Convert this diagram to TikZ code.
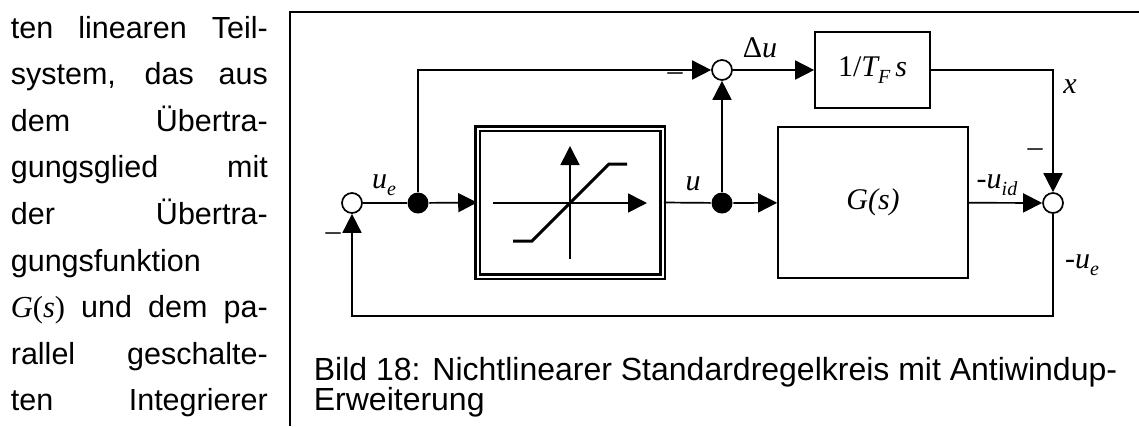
\documentclass[tikz,border=0pt]{standalone}
\usepackage{fontspec}
\setmainfont{Liberation Sans}
\newfontfamily\tms{Liberation Serif}
\usetikzlibrary{arrows.meta}
\newcommand\sbs[1]{\raisebox{-0.22em}{\fontsize{20}{20}\selectfont\itshape #1}}
\begin{document}
\begin{tikzpicture}[x=1pt,y=-1pt,line width=1.7pt,
  sumc/.style={circle,draw,fill=white,minimum size=20pt,inner sep=0pt},
  dotc/.style={circle,fill=black,minimum size=21pt,inner sep=0pt},
  sig/.style={-{Triangle[length=19pt,width=19pt]}},
  blk/.style={draw,inner sep=0pt,line width=1.7pt},
  lab/.style={inner sep=0pt,font=\fontsize{30}{30}\selectfont\tms\itshape},
  body/.style={inner sep=0pt,anchor=base west,font=\fontsize{30.5}{30.5}\selectfont},
  capt/.style={inner sep=0pt,anchor=base west,font=\fontsize{32}{32}\selectfont},
  ]
\useasboundingbox (0,0) rectangle (1139,426);
% left running text
\node[body] (t1) at (10,38) {\makebox[257pt][s]{ten linearen Teil-}};
\node[body] (t2) at (10,84.6) {\makebox[257pt][s]{system, das aus}};
\node[body] (t3) at (10,131.2) {\makebox[257pt][s]{dem Übertra-}};
\node[body] (t4) at (10,177.8) {\makebox[257pt][s]{gungsglied mit}};
\node[body] (t5) at (10,224.4) {\makebox[257pt][s]{der Übertra-}};
\node[body] (t6) at (10,271) {gungsfunktion};
\node[body] (t7) at (10,317.6) {\makebox[257pt][s]{{\tms\itshape G}{\tms(}{\tms\itshape s}{\tms)} und dem pa-}};
\node[body] (t8) at (10,364.2) {\makebox[257pt][s]{rallel geschalte-}};
\node[body] (t9) at (10,410.8) {\makebox[257pt][s]{ten Integrierer}};
% frame
\draw (290,426) -- (290,12) -- (1139,12);
% blocks
\node[draw,line width=2.6pt,double=white,double distance=2pt,minimum width=185pt,minimum height=148pt,inner sep=0pt] (sat) at (570,202.5) {};
\node[blk,minimum width=115pt,minimum height=76pt] (tf) at (872.5,70) {};
\node[blk,minimum width=190pt,minimum height=151pt] (G) at (873,202.5) {};
\node[lab] (tfl) at (tf.center) {{\upshape 1/}T\sbs{F}\,s};
\node[lab] (Gl) at (G.center) {G(s)};
% saturation characteristic
\draw[sig] (493,203) -- (647,203);
\draw[sig] (570,259) -- (570,146);
\draw[line width=3pt] (513,241) -- (532,241) -- (609,164) -- (627,164);
% junctions
\node[sumc] (s1) at (352,203) {};
\node[dotc] (d1) at (418,203) {};
\node[dotc] (d2) at (722,203) {};
\node[sumc] (s2) at (722,70) {};
\node[sumc] (s3) at (1053,203) {};
\coordinate (fb) at (352,316);
% connectors
\draw (s1) -- (d1);
\draw[sig,shorten >=-1pt] (d1) -- (sat.west);
\draw[sig] (d1) |- (s2);
\draw (sat.east) -- (d2);
\draw[sig] (d2) -- (s2);
\draw[sig] (d2) -- (G);
\draw[sig] (s2) -- (tf);
\draw[sig] (tf.east) -| (s3);
\draw[sig] (G) -- (s3);
\draw[sig] (s3) |- (fb) -- (s1);
% labels
\node[lab] (lue) at (384,185) {u\sbs{e}};
\node[lab] (lm1) at (333,237) {\upshape –};
\node[lab] (lm2) at (675,77) {\upshape –};
\node[lab] (lm3) at (1035,153) {\upshape –};
\node[lab] (lu) at (693,184) {u};
\node[lab] (ldu) at (760,48) {{\upshape Δ}u};
\node[lab] (lx) at (1070,87) {x};
\node[lab] (luid) at (997,185) {{\upshape -}u\sbs{id}};
\node[lab] (lue2) at (1082,265) {{\upshape -}u\sbs{e}};
% caption
\node[capt] (c1) at (313,380) {Bild 18: Nichtlinearer Standardregelkreis mit Antiwindup-};
\node[capt] (c2) at (313,410) {Erweiterung};
\end{tikzpicture}
\end{document}
